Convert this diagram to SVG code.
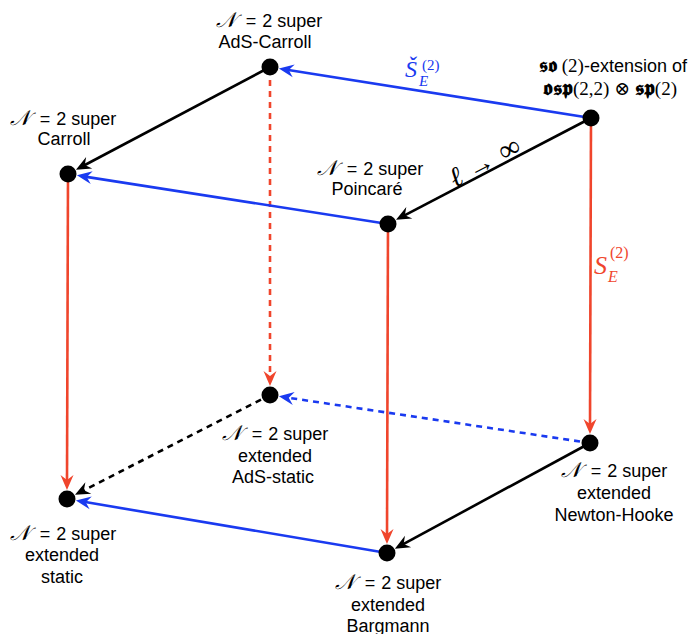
<svg xmlns="http://www.w3.org/2000/svg" width="694" height="634" viewBox="0 0 694 634">
<style>
.lbl{font-family:"Liberation Sans","DejaVu Sans",sans-serif;font-size:18px;fill:#000;text-anchor:middle}
.m{font-family:"Liberation Serif","DejaVu Serif",serif;font-style:italic}
.mr{font-family:"Liberation Serif","DejaVu Serif",serif}
.n{font-size:21px}
.e{fill:none;stroke-width:2.6}
.k{stroke:#000}
.b{stroke:#1a3af0}
.r{stroke:#f0452c}
.d{stroke-dasharray:6 5}
.node{fill:#000}
</style>
<defs>
<marker id="ak" viewBox="-16 -8 18 16" refX="-8" refY="0" markerWidth="18" markerHeight="16" markerUnits="userSpaceOnUse" orient="auto"><path d="M0,0 L-15,-6.5 L-10,0 L-15,6.5 Z" fill="#000"/></marker>
<marker id="ab" viewBox="-16 -8 18 16" refX="-8" refY="0" markerWidth="18" markerHeight="16" markerUnits="userSpaceOnUse" orient="auto"><path d="M0,0 L-15,-6.5 L-10,0 L-15,6.5 Z" fill="#1a3af0"/></marker>
<marker id="ar" viewBox="-16 -8 18 16" refX="-8" refY="0" markerWidth="18" markerHeight="16" markerUnits="userSpaceOnUse" orient="auto"><path d="M0,0 L-15,-6.5 L-10,0 L-15,6.5 Z" fill="#f0452c"/></marker>
</defs>
<g id="connectors">
<line class="e b" x1="591" y1="118" x2="286.8" y2="69.7" marker-end="url(#ab)"/>
<line class="e k" x1="591" y1="118" x2="403.1" y2="216.1" marker-end="url(#ak)"/>
<line class="e r" x1="591" y1="118" x2="590" y2="426" marker-end="url(#ar)"/>
<line class="e k" x1="270" y1="67" x2="83" y2="166" marker-end="url(#ak)"/>
<line class="e r d" x1="270" y1="80" x2="270" y2="378" marker-end="url(#ar)"/>
<line class="e b" x1="388" y1="224" x2="84.8" y2="176.6" marker-end="url(#ab)"/>
<line class="e r" x1="388" y1="224" x2="387" y2="536" marker-end="url(#ar)"/>
<line class="e r" x1="68" y1="174" x2="67" y2="482" marker-end="url(#ar)"/>
<line class="e b d" x1="580" y1="441.5" x2="286.8" y2="397.5" marker-end="url(#ab)"/>
<line class="e k" x1="590" y1="443" x2="401.9" y2="544.9" marker-end="url(#ak)"/>
<line class="e k d" x1="261" y1="399.6" x2="82.1" y2="491.2" marker-end="url(#ak)"/>
<line class="e b" x1="387" y1="553" x2="83.8" y2="501.8" marker-end="url(#ab)"/>
<text class="m" x="405" y="77" font-size="24" fill="#1a3af0">Š</text>
<text class="m" x="419" y="86" font-size="15" fill="#1a3af0">E</text>
<text class="mr" x="422" y="70" font-size="15" fill="#1a3af0">(2)</text>
<text class="m" x="594" y="274" font-size="26" fill="#f0452c">S</text>
<text class="m" x="608" y="282" font-size="16" fill="#f0452c">E</text>
<text class="mr" x="610" y="258" font-size="16" fill="#f0452c">(2)</text>
<text class="m" font-size="28" transform="translate(455,188) rotate(-27.6)">ℓ<tspan class="mr" font-style="normal" font-size="27" dx="8">→</tspan><tspan class="mr" font-style="normal" font-size="30" dx="9">∞</tspan></text>
</g>
<g id="n-adscarroll"><circle class="node" cx="270" cy="67" r="8.5"/><text class="lbl" x="269" y="27"><tspan class="m n">𝒩</tspan><tspan dx="10">=</tspan><tspan dx="6">2 super</tspan></text><text class="lbl" x="265" y="48">AdS-Carroll</text></g>
<g id="n-top"><circle class="node" cx="591" cy="118" r="8.5"/><text class="lbl" x="613" y="72"><tspan class="mr" font-weight="bold" font-size="20">𝖘𝖔</tspan><tspan class="mr" font-size="19"> (2)</tspan>-extension of</text><text class="mr" x="610" y="95" font-size="19" text-anchor="middle"><tspan font-weight="bold" font-size="21">𝖔𝖘𝖕</tspan>(2,2) ⊗ <tspan font-weight="bold" font-size="21">𝖘𝖕</tspan>(2)</text></g>
<g id="n-carroll"><circle class="node" cx="68" cy="174" r="8.5"/><text class="lbl" x="63" y="125"><tspan class="m n">𝒩</tspan><tspan dx="10">=</tspan><tspan dx="6">2 super</tspan></text><text class="lbl" x="64" y="145">Carroll</text></g>
<g id="n-poincare"><circle class="node" cx="388" cy="224" r="8.5"/><text class="lbl" x="370" y="175"><tspan class="m n">𝒩</tspan><tspan dx="10">=</tspan><tspan dx="6">2 super</tspan></text><text class="lbl" x="367" y="195">Poincaré</text></g>
<g id="n-adsstatic"><circle class="node" cx="270" cy="395" r="8.5"/><text class="lbl" x="275" y="440"><tspan class="m n">𝒩</tspan><tspan dx="10">=</tspan><tspan dx="6">2 super</tspan></text><text class="lbl" x="275" y="462">extended</text><text class="lbl" x="273" y="483">AdS-static</text></g>
<g id="n-nh"><circle class="node" cx="590" cy="443" r="8.5"/><text class="lbl" x="614" y="477"><tspan class="m n">𝒩</tspan><tspan dx="10">=</tspan><tspan dx="6">2 super</tspan></text><text class="lbl" x="614" y="499">extended</text><text class="lbl" x="614" y="521">Newton-Hooke</text></g>
<g id="n-static"><circle class="node" cx="67" cy="499" r="8.5"/><text class="lbl" x="63" y="540"><tspan class="m n">𝒩</tspan><tspan dx="10">=</tspan><tspan dx="6">2 super</tspan></text><text class="lbl" x="62" y="561">extended</text><text class="lbl" x="62" y="583">static</text></g>
<g id="n-bargmann"><circle class="node" cx="387" cy="553" r="8.5"/><text class="lbl" x="388" y="589"><tspan class="m n">𝒩</tspan><tspan dx="10">=</tspan><tspan dx="6">2 super</tspan></text><text class="lbl" x="388" y="611">extended</text><text class="lbl" x="388" y="632">Bargmann</text></g>
</svg>
